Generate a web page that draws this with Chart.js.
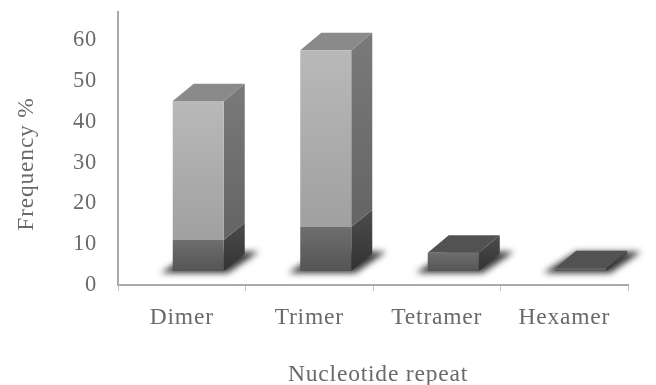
<!DOCTYPE html>
<html>
<head>
<meta charset="utf-8">
<style>
  html, body { margin: 0; padding: 0; background: #fff; }
  #wrap { width: 656px; height: 385px; }
</style>
<script src="https://cdn.jsdelivr.net/npm/chart.js@4"></script>
</head>
<body>
<div id="wrap"><canvas id="c" width="656" height="385"></canvas></div>
<script>
const categories = ['Dimer', 'Trimer', 'Tetramer', 'Hexamer'];
const lowerValues = [7.6, 10.8, 4.5, 0.7];
const upperValues = [34.1, 43.4, 0, 0];
const yTitle = 'Frequency %';
const xTitle = 'Nucleotide repeat';

const FONT = '"Liberation Serif", serif';
const TEXT = '#6a6a6a';
// Perspective of the pseudo-3D columns, in pixels.
const SHIFT_X = 16.5, SHIFT_Y = -14, DEPTH_X = 21, DEPTH_Y = -17.3;

function vGrad(ctx, y0, y1, c0, c1) {
  const g = ctx.createLinearGradient(0, y0, 0, y1);
  g.addColorStop(0, c0);
  g.addColorStop(1, c1);
  return g;
}

function poly(ctx, pts, fill) {
  ctx.beginPath();
  pts.forEach((p, i) => i ? ctx.lineTo(p[0], p[1]) : ctx.moveTo(p[0], p[1]));
  ctx.closePath();
  ctx.fillStyle = fill;
  ctx.fill();
}

function caption(ctx, text, x, y, angle) {
  ctx.save();
  ctx.translate(x, y);
  ctx.rotate(angle);
  ctx.font = '23.5px ' + FONT;
  ctx.fillStyle = TEXT;
  ctx.textAlign = 'center';
  ctx.textBaseline = 'middle';
  ctx.fillText(text, 0, 0);
  ctx.restore();
}

const columns3d = {
  id: 'columns3d',
  beforeDraw(chart) {
    chart.ctx.letterSpacing = '0.8px';
  },
  beforeDatasetsDraw(chart) {
    const ctx = chart.ctx;
    ctx.save();
    ctx.translate(SHIFT_X, SHIFT_Y);
    const low = chart.getDatasetMeta(0).data;
    const up = chart.getDatasetMeta(1).data;
    // Soft floor shadow under each column.
    low.forEach(bar => {
      const l = bar.x - bar.width / 2, r = bar.x + bar.width / 2, b = bar.base;
      ctx.save();
      ctx.filter = 'blur(3px)';
      poly(ctx, [[l - 12, b + 2], [r + 4, b + 2], [r + DEPTH_X + 14, b + DEPTH_Y - 2], [l + DEPTH_X, b + DEPTH_Y - 2]], '#383838');
      ctx.restore();
    });
    // Side faces, then top faces.
    low.forEach((bar, i) => {
      const r = bar.x + bar.width / 2, l = bar.x - bar.width / 2;
      const segs = [[bar, '#4c4c4c', '#333333']];
      if (upperValues[i] > 0) segs.push([up[i], '#7a7a7a', '#646464']);
      segs.forEach(([s, c0, c1]) => {
        poly(ctx, [[r, s.base], [r, s.y], [r + DEPTH_X, s.y + DEPTH_Y], [r + DEPTH_X, s.base + DEPTH_Y]],
          vGrad(ctx, s.y + DEPTH_Y, s.base, c0, c1));
      });
      const topY = upperValues[i] > 0 ? up[i].y : bar.y;
      poly(ctx, [[l, topY], [r, topY], [r + DEPTH_X, topY + DEPTH_Y], [l + DEPTH_X, topY + DEPTH_Y]],
        upperValues[i] > 0 ? '#8a8a8a' : '#525252');
    });
  },
  afterDatasetsDraw(chart) {
    chart.ctx.restore();
  },
  afterDraw(chart) {
    // Axis captions, placed a little off the centre of their axes.
    caption(chart.ctx, yTitle, 27, 164, -Math.PI / 2);
    caption(chart.ctx, xTitle, 378, 375, 0);
  }
};

function faceFill(values, offsets, c0, c1) {
  return ctx => {
    const y = ctx.chart.scales.y;
    const i = ctx.dataIndex;
    if (!y || i === undefined) return c0;
    const from = offsets ? offsets[i] : 0;
    const y0 = y.getPixelForValue(from + values[i]);
    const y1 = y.getPixelForValue(from);
    if (!Number.isFinite(y0) || !Number.isFinite(y1)) return c0;
    return vGrad(ctx.chart.ctx, y0, y1, c0, c1);
  };
}

new Chart(document.getElementById('c'), {
  type: 'bar',
  data: {
    labels: categories,
    datasets: [
      { label: 'Lower', data: lowerValues, backgroundColor: faceFill(lowerValues, null, '#6e6e6e', '#555555') },
      { label: 'Upper', data: upperValues, backgroundColor: faceFill(upperValues, lowerValues, '#b9b9b9', '#a0a0a0') }
    ]
  },
  options: {
    responsive: false,
    animation: false,
    layout: { padding: { top: 12, right: 28, left: 0, bottom: 0 } },
    plugins: { legend: { display: false }, tooltip: { enabled: false } },
    datasets: { bar: { barPercentage: 0.4, categoryPercentage: 1 } },
    scales: {
      x: {
        stacked: true,
        afterFit: s => { s.height = 100; s.paddingLeft = 0; s.paddingRight = 0; },
        grid: { drawOnChartArea: false, drawTicks: true, tickLength: 6, color: '#c4c4c4', offset: true },
        border: { color: '#aaaaaa', width: 2 },
        ticks: { color: TEXT, font: { family: FONT, size: 23.5 }, padding: 13, maxRotation: 0 }
      },
      y: {
        stacked: true,
        min: 0,
        max: 67,
        afterFit: s => { s.width = 118; s.paddingTop = 0; s.paddingBottom = 0; },
        grid: { display: false, drawTicks: false },
        border: { color: '#aaaaaa', width: 2 },
        ticks: { stepSize: 10, includeBounds: false, color: TEXT, font: { family: FONT, size: 22.5 }, padding: 21 }
      }
    }
  },
  plugins: [columns3d]
});
</script>
</body>
</html>
